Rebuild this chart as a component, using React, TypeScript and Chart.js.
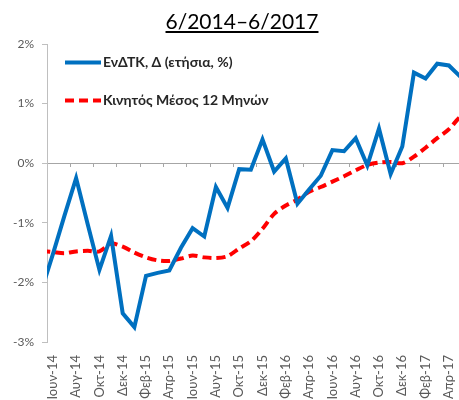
import React, { useEffect, useRef } from 'react';
import { Chart, registerables } from 'chart.js';

Chart.register(...registerables);

// Monthly categories (May-14 lies just left of the visible axis start)
const categories = [
  'Μαϊ-14', 'Ιουν-14', 'Ιουλ-14', 'Αυγ-14', 'Σεπ-14', 'Οκτ-14', 'Νοε-14', 'Δεκ-14',
  'Ιαν-15', 'Φεβ-15', 'Μαρ-15', 'Απρ-15', 'Μαϊ-15', 'Ιουν-15', 'Ιουλ-15', 'Αυγ-15', 'Σεπ-15', 'Οκτ-15', 'Νοε-15', 'Δεκ-15',
  'Ιαν-16', 'Φεβ-16', 'Μαρ-16', 'Απρ-16', 'Μαϊ-16', 'Ιουν-16', 'Ιουλ-16', 'Αυγ-16', 'Σεπ-16', 'Οκτ-16', 'Νοε-16', 'Δεκ-16',
  'Ιαν-17', 'Φεβ-17', 'Μαρ-17', 'Απρ-17', 'Μαϊ-17', 'Ιουν-17',
];

const hicpAnnual = [
  -2.15, -1.53, -0.88, -0.25, -1.03, -1.79, -1.22, -2.52,
  -2.75, -1.89, -1.84, -1.80, -1.42, -1.09, -1.23, -0.40, -0.75, -0.10, -0.11, 0.40,
  -0.14, 0.08, -0.68, -0.44, -0.21, 0.22, 0.20, 0.42, -0.04, 0.58, -0.18, 0.28,
  1.52, 1.42, 1.67, 1.64, 1.45, 0.95,
];

const movingAvg12 = [
  -1.47, -1.49, -1.51, -1.48, -1.47, -1.48, -1.35, -1.40,
  -1.50, -1.58, -1.63, -1.64, -1.60, -1.55, -1.58, -1.59, -1.56, -1.43, -1.31, -1.10,
  -0.85, -0.71, -0.61, -0.48, -0.40, -0.31, -0.22, -0.12, -0.03, 0.01, 0.02, 0.00,
  0.11, 0.26, 0.42, 0.57, 0.78, 0.88,
];

const seriesNames = ['ΕνΔΤΚ, Δ (ετήσια, %)', 'Κινητός Μέσος 12 Μηνών'];
const titleText = '6/2014–6/2017';
const firstShown = 'Ιουν-14';

const insideLegend = {
  id: 'insideLegend',
  afterDatasetsDraw(chart: any) {
    const { ctx, chartArea } = chart;
    ctx.save();
    chart.data.datasets.forEach((ds: any, i: number) => {
      const y = chartArea.top + 18.5 + i * 38;
      const x0 = chartArea.left + 18;
      ctx.beginPath();
      ctx.setLineDash(ds.borderDash || []);
      ctx.lineWidth = ds.borderWidth;
      ctx.strokeStyle = ds.borderColor;
      ctx.moveTo(x0, y);
      ctx.lineTo(x0 + 36, y);
      ctx.stroke();
      ctx.setLineDash([]);
      ctx.fillStyle = '#262626';
      ctx.font = 'bold 14px Lato';
      ctx.textBaseline = 'middle';
      ctx.textAlign = 'left';
      ctx.fillText(ds.label, x0 + 38, y);
    });
    ctx.restore();
  },
};

export default function App() {
  const ref = useRef<HTMLCanvasElement>(null);

  useEffect(() => {
    if (!ref.current) return;
    const chart = new Chart(ref.current, {
      type: 'line',
      data: {
        labels: categories,
        datasets: [
          {
            label: seriesNames[0],
            data: hicpAnnual,
            borderColor: '#0070C0',
            backgroundColor: '#0070C0',
            borderWidth: 4,
            pointRadius: 0,
            tension: 0,
            clip: 0,
            xAxisID: 'x',
          },
          {
            label: seriesNames[1],
            data: movingAvg12,
            borderColor: '#FF0000',
            backgroundColor: '#FF0000',
            borderWidth: 4,
            borderDash: [9, 5],
            pointRadius: 0,
            tension: 0.3,
            clip: 0,
            xAxisID: 'x',
          },
        ],
      },
      options: {
        responsive: false,
        animation: false,
        layout: { padding: { top: 44, right: 6, left: 0, bottom: 0 } },
        plugins: {
          legend: { display: false },
          tooltip: { enabled: false },
          title: { display: false },
        },
        scales: {
          x: {
            type: 'category',
            position: 'bottom',
            min: firstShown,
            offset: true,
            grid: { display: false, drawTicks: false },
            border: { display: false },
            ticks: {
              autoSkip: false,
              maxRotation: 90,
              minRotation: 90,
              padding: 13,
              color: '#595959',
              font: { family: 'Lato', size: 13 },
              callback: function (this: any, value: any) {
                return value % 2 === 1 ? this.getLabelForValue(value) : '';
              },
            },
            afterFit: (scale: any) => {
              scale.height = 78;
              scale.paddingLeft = 0;
              scale.paddingRight = 0;
            },
          },
          x2: {
            type: 'category',
            position: { y: 0 } as any,
            min: firstShown,
            offset: true,
            ticks: { display: false },
            border: { display: false },
            grid: {
              offset: true,
              drawOnChartArea: false,
              drawTicks: true,
              tickLength: 4,
              color: (ctx: any) => (ctx.index % 2 === 0 ? '#a6a6a6' : 'rgba(0,0,0,0)'),
            },
            afterFit: (scale: any) => {
              scale.paddingLeft = 0;
              scale.paddingRight = 0;
            },
          },
          y: {
            min: -3,
            max: 2,
            ticks: {
              stepSize: 1,
              padding: 8,
              color: '#595959',
              font: { family: 'Lato', size: 12 },
              callback: (v: any) => `${v}%`,
            },
            grid: {
              color: (ctx: any) => (ctx.tick && ctx.tick.value === 0 ? '#a6a6a6' : 'rgba(0,0,0,0)'),
              tickColor: '#bfbfbf',
              tickLength: 5,
            },
            border: { display: true, color: '#bfbfbf' },
            afterFit: (scale: any) => {
              scale.width = 47;
            },
          },
        },
      },
      plugins: [insideLegend],
    });
    return () => chart.destroy();
  }, []);

  return (
    <div style={{ position: 'absolute', left: 0, top: 0, width: 459, height: 400, overflow: 'hidden', background: '#fff' }}>
      <div style={{ position: 'absolute', left: 0, top: 0, width: 484, height: 420 }}>
        <canvas ref={ref} width={484} height={420} style={{ width: 484, height: 420, display: 'block' }} />
      </div>
      <div
        style={{
          position: 'absolute',
          left: 0,
          top: 8,
          width: 484,
          textAlign: 'center',
          fontFamily: 'Lato',
          fontSize: 21,
          lineHeight: '25px',
          textDecoration: 'underline',
          color: '#000',
        }}
      >
        {titleText}
      </div>
    </div>
  );
}
